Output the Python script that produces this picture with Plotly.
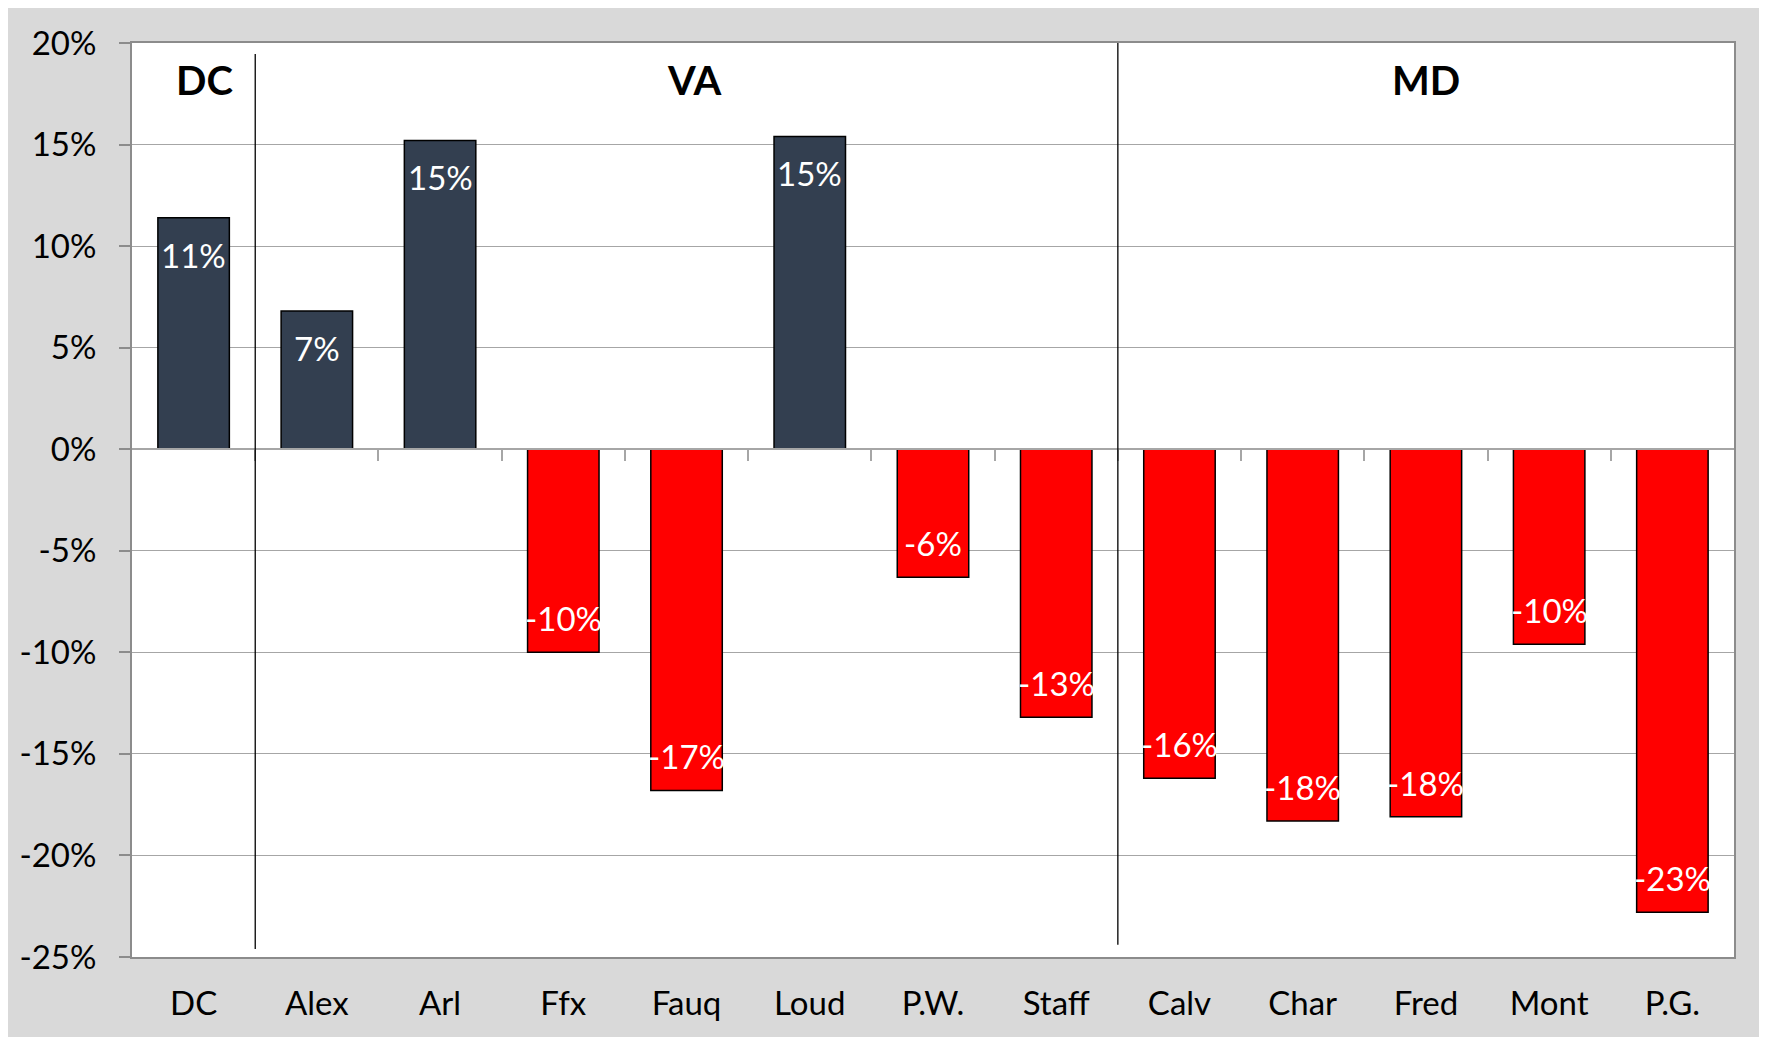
import plotly.graph_objects as go

categories = ["DC", "Alex", "Arl", "Ffx", "Fauq", "Loud", "P.W.", "Staff",
              "Calv", "Char", "Fred", "Mont", "P.G."]
values = [0.114, 0.068, 0.152, -0.100, -0.168, 0.154, -0.063, -0.132,
          -0.162, -0.183, -0.181, -0.096, -0.228]
groups = ["DC", "VA", "MD"]
group_label_x = [0.09, 4.06, 10.0]
separators = [0.5, 7.5]
y_ticks = [0.20, 0.15, 0.10, 0.05, 0.0, -0.05, -0.10, -0.15, -0.20, -0.25]
y_tick_text = ["20%", "15%", "10%", "5%", "0%", "-5%", "-10%", "-15%", "-20%", "-25%"]

POS = "#333f50"
NEG = "#ff0000"
FONT = "Lato, Open Sans, sans-serif"
GRID = "#a6a6a6"
AXIS = "#8c8c8c"

xs = list(range(len(categories)))
colors = [POS if v >= 0 else NEG for v in values]

fig = go.Figure()
fig.add_trace(go.Bar(
    x=xs, y=values, marker=dict(color=colors, line=dict(color="#000000", width=1.5)),
    width=0.58, hoverinfo="skip", showlegend=False,
))
# invisible anchor trace for the zero-line tick axis
fig.add_trace(go.Scatter(x=[-0.5, 12.5], y=[0, 0], xaxis="x2", mode="lines",
                         line=dict(width=0), hoverinfo="skip", showlegend=False))

annotations = []
for x, v in zip(xs, values):
    annotations.append(dict(
        x=x, y=v, xref="x", yref="y", text=f"{round(v*100):d}%",
        showarrow=False, yshift=-37 if v >= 0 else 34,
        font=dict(family=FONT, size=33, color="#ffffff"),
    ))
for gx, g in zip(group_label_x, groups):
    annotations.append(dict(
        x=gx, y=0.182, xref="x", yref="y", text=f"<b>{g}</b>",
        showarrow=False, font=dict(family=FONT, size=40, color="#000000"),
    ))

shapes = [
    dict(type="line", xref="x", yref="y", x0=separators[0], x1=separators[0],
         y0=0.1946, y1=-0.246, line=dict(color="#000000", width=1.3)),
    dict(type="line", xref="x", yref="y", x0=separators[1], x1=separators[1],
         y0=0.2017, y1=-0.244, line=dict(color="#000000", width=1.3)),
    # thin white page margin on the right of the gray chart area
    dict(type="rect", xref="paper", yref="paper", x0=1.0181, x1=1.1, y0=-0.2, y1=1.2,
         fillcolor="#ffffff", line=dict(width=0), layer="below"),
]

fig.update_layout(
    width=1759, height=1029,
    margin=dict(l=124, r=33, t=35, b=80, autoexpand=False),
    paper_bgcolor="#d9d9d9", plot_bgcolor="#ffffff",
    font=dict(family=FONT, size=33, color="#000000"),
    bargap=0.42,
    xaxis=dict(
        tickmode="array", tickvals=xs, ticktext=categories, automargin=False,
        range=[-0.5, 12.5], showgrid=False, zeroline=False,
        ticks="", showline=True, linecolor=AXIS, linewidth=2, mirror=True,
        tickfont=dict(family=FONT, size=33, color="#000000"),
        ticklabelstandoff=16,
    ),
    xaxis2=dict(
        overlaying="x", anchor="free", position=25/45, side="bottom",
        range=[-0.5, 12.5], tickmode="array", tickvals=[i + 0.5 for i in range(12)],
        ticks="outside", ticklen=11, tickwidth=1.5, tickcolor=GRID, automargin=False,
        showticklabels=False, showgrid=False, zeroline=False,
        showline=True, linecolor=GRID, linewidth=1.5,
    ),
    yaxis=dict(
        range=[-0.25, 0.20], tickmode="array", tickvals=y_ticks, ticktext=y_tick_text,
        showgrid=True, gridcolor=GRID, gridwidth=1.2, zeroline=False, automargin=False,
        ticks="outside", ticklen=11, tickwidth=1.5, tickcolor=AXIS,
        showline=True, linecolor=AXIS, linewidth=2, mirror=True,
        tickfont=dict(family=FONT, size=33, color="#000000"),
        ticklabelstandoff=16,
    ),
    annotations=annotations, shapes=shapes,
)

fig.write_html("out.html")
